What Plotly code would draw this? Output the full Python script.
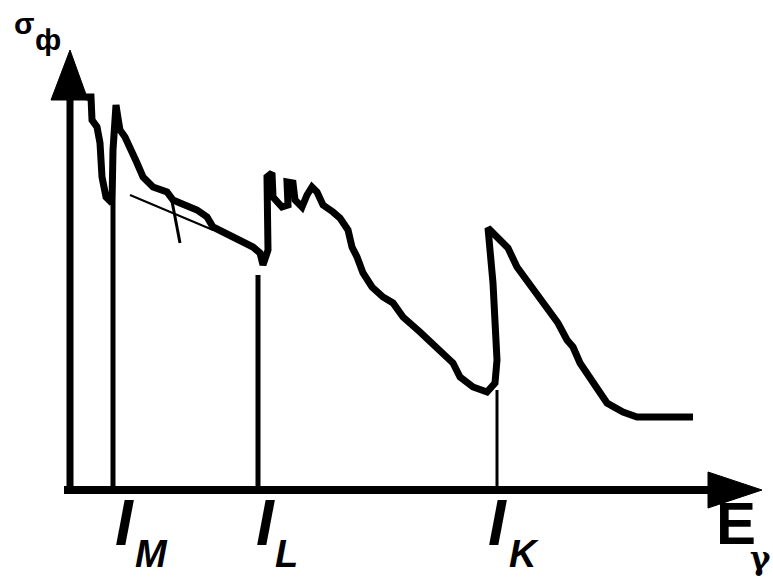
import plotly.graph_objects as go

# Photo-absorption cross-section sketch (arbitrary units; origin at axis crossing)
energy = [16, 21, 22, 27, 30, 32, 36, 42, 43, 45, 46, 48, 50, 55, 60, 67, 73, 83, 97, 103,
          110, 127, 137, 143, 163, 183, 190, 193, 198, 196, 197, 202, 203, 212, 218, 217,
          223, 225, 232, 237, 242, 247, 253, 263, 270, 278, 282, 287, 293, 302, 313, 323,
          333, 350, 370, 383, 390, 403, 417, 425, 427, 423, 418, 438, 447, 458, 477, 488,
          497, 503, 510, 520, 527, 537, 553, 567, 623]
sigma = [393, 393, 370, 363, 347, 313, 293, 287, 340, 380, 385, 372, 360, 353, 343, 327, 313,
         303, 298, 290, 287, 280, 273, 263, 253, 243, 237, 225, 240, 300, 313, 317, 293, 283,
         285, 308, 307, 290, 283, 295, 303, 298, 285, 278, 272, 260, 243, 233, 217, 203, 193,
         187, 173, 158, 140, 127, 113, 103, 98, 107, 130, 207, 262, 242, 223, 208, 180, 167,
         150, 143, 127, 112, 100, 87, 78, 73, 73]

# Extrapolation of the M-shell branch (thin line) and the small notch
extrap_E = [60, 143]
extrap_s = [295, 260]
notch_E = [101, 110]
notch_s = [294, 247]

# Absorption edges
edge_names = ["M", "L", "K"]
edge_E = [43, 188, 427]
edge_top = [287, 215, 100]
edge_width = [5, 5, 3]
label_I_dx = [11, 7, 0]
label_sub_dx = [20, 15, 10]

# Axis extents
x_min, x_end, x_tip = -6, 640, 692
y_end, y_tip = 390, 440

fig = go.Figure()

# axes
fig.add_trace(go.Scatter(x=[0, 0], y=[-4, y_end], mode="lines",
                         line=dict(color="black", width=7)))
fig.add_trace(go.Scatter(x=[-19, 0, 18, -19], y=[y_end, y_tip, y_end, y_end], mode="lines",
                         fill="toself", fillcolor="black", line=dict(color="black", width=1)))
fig.add_trace(go.Scatter(x=[x_min, x_end], y=[0, 0], mode="lines",
                         line=dict(color="black", width=8)))
fig.add_trace(go.Scatter(x=[x_end - 2, x_tip, x_end - 2, x_end - 2], y=[-18, 0, 18, -18],
                         mode="lines", fill="toself", fillcolor="black",
                         line=dict(color="black", width=1)))

# edges
for e, top, w in zip(edge_E, edge_top, edge_width):
    fig.add_trace(go.Scatter(x=[e, e], y=[0, top], mode="lines",
                             line=dict(color="black", width=w)))

# extrapolation & notch
fig.add_trace(go.Scatter(x=extrap_E, y=extrap_s, mode="lines",
                         line=dict(color="black", width=2)))
fig.add_trace(go.Scatter(x=notch_E, y=notch_s, mode="lines",
                         line=dict(color="black", width=3)))

# cross-section curve
fig.add_trace(go.Scatter(x=energy, y=sigma, mode="lines",
                         line=dict(color="black", width=7)))

anns = []
bi = dict(family="Liberation Sans", color="black")
# edge labels
for name, e, dI, dS in zip(edge_names, edge_E, label_I_dx, label_sub_dx):
    anns.append(dict(x=e + dI, y=-33, xref="x", yref="y", text="<b><i>I</i></b>",
                     showarrow=False, xanchor="center", yanchor="middle",
                     font=dict(size=64, **bi)))
    anns.append(dict(x=e + dS, y=-64, xref="x", yref="y", text="<b><i>%s</i></b>" % name,
                     showarrow=False, xanchor="left", yanchor="middle",
                     font=dict(size=38, **bi)))
# E_gamma
anns.append(dict(x=644, y=-33, xref="x", yref="y", text="<b>E</b>", showarrow=False,
                 xanchor="left", yanchor="middle", font=dict(size=60, **bi)))
anns.append(dict(x=703, y=-68, xref="x", yref="y", text="<b>γ</b>", showarrow=False,
                 xanchor="right", yanchor="middle",
                 font=dict(size=31, family="DejaVu Serif", color="black")))
# sigma_phi
anns.append(dict(x=-58, y=467, xref="x", yref="y", text="<b>σ</b>", showarrow=False,
                 xanchor="left", yanchor="middle", font=dict(size=30, **bi)))
anns.append(dict(x=-37, y=451, xref="x", yref="y", text="<b>ф</b>", showarrow=False,
                 xanchor="left", yanchor="middle", font=dict(size=30, **bi)))

fig.update_layout(
    width=773, height=580, margin=dict(l=0, r=0, t=0, b=0),
    paper_bgcolor="white", plot_bgcolor="white", showlegend=False,
    xaxis=dict(range=[-70, 703], visible=False, fixedrange=True),
    yaxis=dict(range=[-90, 490], visible=False, fixedrange=True),
    annotations=anns,
)
fig.write_html("out.html")
